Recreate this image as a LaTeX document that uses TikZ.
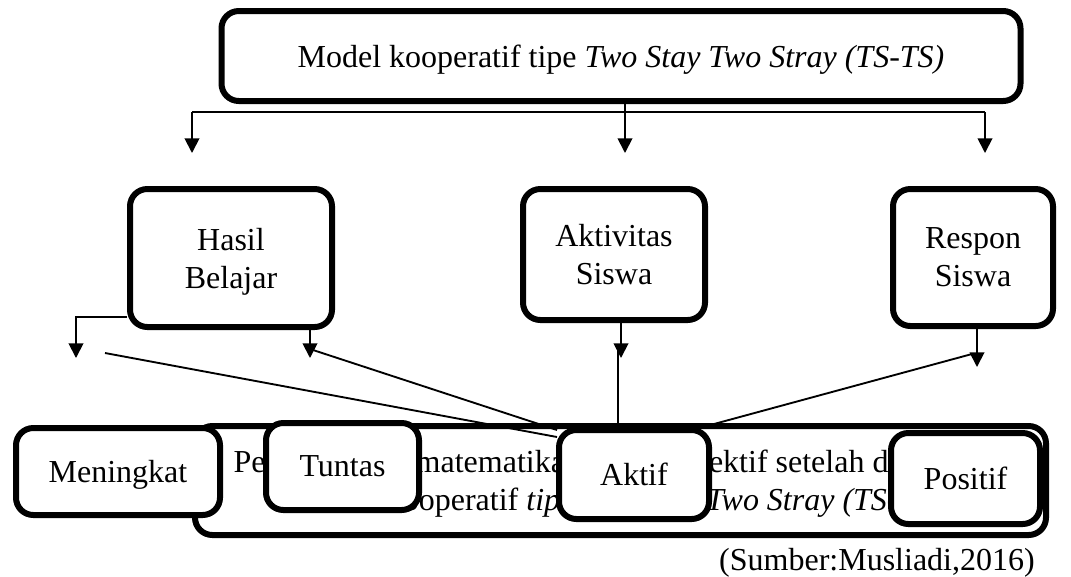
\documentclass[tikz,border=0pt]{standalone}
\usepackage{fontspec}
\setmainfont{Liberation Serif}
\usetikzlibrary{arrows.meta}
\begin{document}
\begin{tikzpicture}[x=0.75pt,y=-0.75pt,
  font=\fontsize{24}{28.5}\selectfont,
  bx/.style={draw, line width=4.5pt, rounded corners=13pt, fill=white, inner sep=0pt, align=center, text depth=0pt},
  sz/.style 2 args={minimum width=#1*0.75pt, minimum height=#2*0.75pt},
  conn/.style={line width=1.4pt},
  arr/.style={conn, -{Triangle[length=11pt,width=11pt]}}]
\useasboundingbox (0,0) rectangle (1071,576);

% large bottom box (drawn first, partly covered)
\node[bx, sz={851}{109}] (big) at (620.5,480.5) {Pembelajaran matematika menjadi efektif setelah diterapkan\\ model kooperatif \textit{tipe Two Stay Two Stray (TS-TS)}};

% top box
\node[bx, sz={799}{90}] (top) at (621,56) {Model kooperatif tipe \textit{Two Stay Two Stray (TS-TS)}};

% middle boxes
\node[bx, sz={202}{138}] (hasil) at (231,258) {Hasil\\Belajar};
\node[bx, sz={182}{131}] (aktivitas) at (614,254.5) {Aktivitas\\Siswa};
\node[bx, sz={160}{137}] (respon) at (973,257.5) {Respon\\Siswa};

% coordinates
\coordinate (hm) at (625,112);
\coordinate (hl) at (192,112);
\coordinate (hr) at (985,112);
\coordinate (tl) at (192,153);
\coordinate (tm) at (625,153);
\coordinate (tr) at (985,153);
\coordinate (h1) at (76,317);
\coordinate (hbL) at (76,358);
\coordinate (hbR) at (310,358);
\coordinate (abt) at (621,358);
\coordinate (av) at (618,345);
\coordinate (rbt) at (977,367);
\coordinate (la) at (105,353);
\coordinate (laE) at (557,437);
\coordinate (lb) at (313,350);
\coordinate (lbE) at (557,430);
\coordinate (lc) at (972,354);
\coordinate (lcE) at (714,424);

% top connectors
\draw[conn] (top.south -| hm) -- (hm);
\draw[conn] (hl) -- (hr);
\draw[arr] (hl) -- (tl);
\draw[arr] (hm) -- (tm);
\draw[arr] (hr) -- (tr);

% middle connectors
\draw[arr] (hasil.west |- h1) -- (h1) -- (hbL);
\draw[arr] (hasil.south -| hbR) -- (hbR);
\draw[arr] (aktivitas.south -| abt) -- (abt);
\draw[arr] (respon.south -| rbt) -- (rbt);
\draw[conn] (av) -- (av |- big.north);
\draw[conn] (la) -- (laE);
\draw[conn] (lb) -- (lbE);
\draw[conn] (lc) -- (lcE);

% bottom boxes
\node[bx, sz={204}{87}] (meningkat) at (118,471.5) {Meningkat};
\node[bx, sz={153}{87}] (tuntas) at (342.5,466.5) {Tuntas};
\node[bx, sz={150}{89}] (aktif) at (634,474.5) {Aktif};
\node[bx, sz={149}{91}] (positif) at (965.5,478.5) {Positif};

% source
\node[anchor=base east, inner sep=0pt] (src) at (1035,570) {(Sumber:Musliadi,2016)};
\end{tikzpicture}
\end{document}
